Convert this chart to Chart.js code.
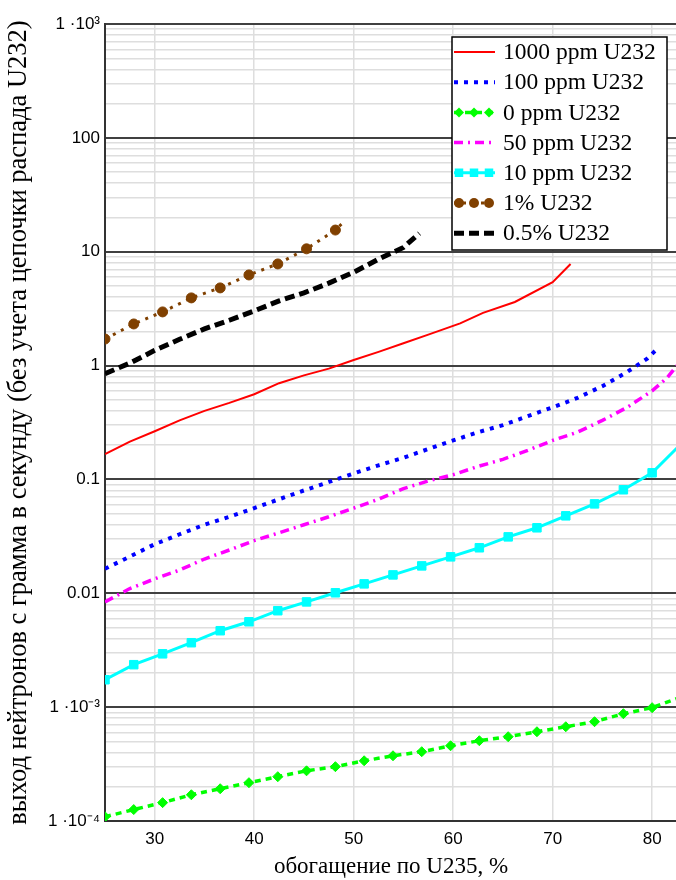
<!DOCTYPE html>
<html lang="ru">
<head>
<meta charset="UTF-8">
<title>Выход нейтронов</title>
<script src="https://cdn.jsdelivr.net/npm/chart.js"></script>
<style>
  html, body { margin: 0; padding: 0; background: #fff; overflow: hidden; }
  canvas { display: block; }
</style>
</head>
<body>
<!-- a bit wider than the window: the right plot edge falls on the window edge, as in the original -->
<canvas id="chart" width="684" height="880"></canvas>
<script>
// enrichment values where the marker series have their points
const xMarks = [25, 27.89, 30.79, 33.68, 36.58, 39.47, 42.37, 45.26, 48.16, 51.05,
                53.95, 56.84, 59.74, 62.63, 65.53, 68.42, 71.32, 74.21, 77.11, 80];

// 1000 ppm U232
const xU1000 = [25, 27.5, 30, 32.5, 35, 37.5, 40, 42.5, 45, 47.5, 50, 52.5, 55, 57.5, 60.7, 63, 66.2, 70, 71.8];
const yU1000 = [0.167, 0.215, 0.265, 0.33, 0.40, 0.47, 0.56, 0.70, 0.82, 0.94, 1.12, 1.32, 1.57, 1.87, 2.35, 2.9, 3.62, 5.4, 7.8];

// 100 ppm U232
const xU100 = [25, 27.5, 30, 32.5, 35, 37.5, 40, 42.5, 45, 47.5, 50, 52.5, 55, 57.5, 60, 62.5, 65, 67.5, 70, 72.5, 75, 77.5, 79.5, 80.5];
const yU100 = [0.0164, 0.021, 0.027, 0.033, 0.040, 0.047, 0.056, 0.067, 0.080, 0.095, 0.113, 0.133, 0.155, 0.185, 0.22, 0.26, 0.30, 0.36, 0.43, 0.52, 0.66, 0.88, 1.15, 1.40];

// 0 ppm U232 (markers + tail to the plot edge)
const xU0 = xMarks.concat([82.5]);
const yU0 = [1.09e-4, 1.26e-4, 1.45e-4, 1.70e-4, 1.92e-4, 2.17e-4, 2.45e-4, 2.76e-4, 3.00e-4, 3.38e-4,
             3.74e-4, 4.06e-4, 4.58e-4, 5.07e-4, 5.50e-4, 6.08e-4, 6.73e-4, 7.45e-4, 8.75e-4, 9.89e-4, 1.19e-3];

// 50 ppm U232
const xU50 = [25, 27.5, 30, 32.5, 35, 37.5, 40, 42.5, 45, 47.5, 50, 52.5, 55, 57.5, 60, 62.5, 65, 67.5, 70, 72.5, 75, 77.5, 80, 81.5, 82.5];
const yU50 = [0.0084, 0.011, 0.0134, 0.016, 0.020, 0.024, 0.029, 0.034, 0.040, 0.047, 0.056, 0.067, 0.083, 0.097, 0.11, 0.13, 0.15, 0.18, 0.22, 0.26, 0.33, 0.43, 0.60, 0.78, 1.0];

// 10 ppm U232
const xU10 = xMarks.concat([82.5]);
const yU10 = [0.00174, 0.00236, 0.00294, 0.00368, 0.00469, 0.00562, 0.00703, 0.0084, 0.0101, 0.0121,
              0.0145, 0.0174, 0.0209, 0.0251, 0.0313, 0.0376, 0.0479, 0.0610, 0.0811, 0.1143, 0.189];

// 1% U232
const xP1 = xMarks.slice(0, 9).concat([49.0]);
const yP1 = [1.71, 2.32, 2.96, 3.93, 4.81, 6.25, 7.81, 10.6, 15.5, 18.3];

// 0.5% U232
const xP05 = [25, 27.5, 30, 32.5, 35, 37.5, 40, 42.5, 45, 47.5, 50, 52.5, 55, 56.6];
const yP05 = [0.85, 1.05, 1.36, 1.70, 2.10, 2.50, 3.02, 3.70, 4.35, 5.3, 6.6, 8.6, 10.9, 14.5];

const xTicks = [30, 40, 50, 60, 70, 80];
const yDecades = [1e-4, 1e-3, 0.01, 0.1, 1, 10, 100, 1000];
const yTickLabels = ['1 \u00b710\u207b\u2074', '1 \u00b710\u207b\u00b3', '0.01', '0.1', '1', '10', '100', '1 \u00b710\u00b3'];

const serif = "'Liberation Serif', 'Times New Roman', serif";
const tickFont = { family: "'Liberation Sans', Arial, sans-serif", size: 17 };

function pts(xs, ys) {
    return xs.map((x, i) => ({ x: x, y: ys[i] }));
}
function markRadius(xs, r) {
    return xs.map(x => xMarks.includes(x) ? r : 0);
}
function isDecade(v) {
    return yDecades.some(d => Math.abs(Math.log10(v) - Math.log10(d)) < 1e-6);
}

const datasets = [
    { label: '1000 ppm U232', data: pts(xU1000, yU1000), borderColor: '#ff0000', borderWidth: 2, pointRadius: 0 },
    { label: '100 ppm U232', data: pts(xU100, yU100), borderColor: '#0000ff', borderWidth: 4,
      borderDash: [4, 6], pointRadius: 0 },
    { label: '0 ppm U232', data: pts(xU0, yU0), borderColor: '#00ff00', borderWidth: 3.5, borderDash: [6, 5],
      pointStyle: 'rectRot', pointRadius: markRadius(xU0, 5), backgroundColor: '#00ff00', pointBorderWidth: 1 },
    { label: '50 ppm U232', data: pts(xU50, yU50), borderColor: '#ff00ff', borderWidth: 3.5,
      borderDash: [9, 5, 2, 5], pointRadius: 0 },
    { label: '10 ppm U232', data: pts(xU10, yU10), borderColor: '#00ffff', borderWidth: 3,
      pointStyle: 'rect', pointRadius: markRadius(xU10, 6), backgroundColor: '#00ffff', pointBorderWidth: 1 },
    { label: '1% U232', data: pts(xP1, yP1), borderColor: '#804000', borderWidth: 3, borderDash: [3, 6],
      pointStyle: 'circle', pointRadius: markRadius(xP1, 5), backgroundColor: '#804000', pointBorderWidth: 1 },
    { label: '0.5% U232', data: pts(xP05, yP05), borderColor: '#000000', borderWidth: 5,
      borderDash: [10, 5], pointRadius: 0 }
];
datasets.forEach(ds => { ds.fill = false; ds.tension = 0; ds.borderCapStyle = 'butt'; ds.pointHoverRadius = 0; });

function drawMark(ctx, style, x, y, r, color) {
    ctx.fillStyle = color;
    ctx.beginPath();
    if (style === 'rect') {
        const s = r * Math.SQRT1_2;
        ctx.rect(x - s, y - s, 2 * s, 2 * s);
    } else if (style === 'rectRot') {
        ctx.moveTo(x, y - r); ctx.lineTo(x + r, y); ctx.lineTo(x, y + r); ctx.lineTo(x - r, y); ctx.closePath();
    } else {
        ctx.arc(x, y, r, 0, Math.PI * 2);
    }
    ctx.fill();
}

// legend box in the top right corner of the plot
const boxLegend = {
    id: 'boxLegend',
    afterDatasetsDraw(chart) {
        const ctx = chart.ctx;
        const left = 452, right = 667, top = 37, h = 213;
        ctx.save();
        ctx.fillStyle = '#ffffff';
        ctx.fillRect(left, top, right - left, h);
        ctx.strokeStyle = '#000';
        ctx.lineWidth = 1.5;
        ctx.setLineDash([]);
        ctx.strokeRect(left, top, right - left, h);
        chart.data.datasets.forEach((ds, i) => {
            const y = top + 15 + i * 30.2;
            ctx.save();
            ctx.beginPath();
            ctx.rect(left + 1, y - 10, 42, 20);
            ctx.clip();
            ctx.beginPath();
            ctx.setLineDash(ds.borderDash || []);
            ctx.lineWidth = ds.borderWidth;
            ctx.strokeStyle = ds.borderColor;
            ctx.lineCap = 'butt';
            ctx.moveTo(left + 2, y);
            ctx.lineTo(left + 43, y);
            ctx.stroke();
            if (ds.pointStyle) {
                [left + 7, left + 22, left + 37].forEach(mx =>
                    drawMark(ctx, ds.pointStyle, mx, y, ds.pointStyle === 'rect' ? 6 : 5, ds.borderColor));
            }
            ctx.restore();
            ctx.fillStyle = '#000';
            ctx.font = '23.5px ' + serif;
            ctx.textBaseline = 'middle';
            ctx.fillText(ds.label, left + 51, y + 1);
        });
        ctx.restore();
    }
};

new Chart(document.getElementById('chart'), {
    type: 'line',
    data: { datasets: datasets },
    options: {
        responsive: false,
        animation: false,
        devicePixelRatio: 1,
        layout: { padding: { top: 24, right: 0, bottom: 0, left: 0 } },
        plugins: { legend: { display: false }, tooltip: { enabled: false } },
        scales: {
            x: {
                type: 'linear',
                min: 25,
                max: 82.5,
                afterBuildTicks: s => { s.ticks = xTicks.map(v => ({ value: v })); },
                afterFit: s => { s.height = 59; },
                ticks: { color: '#000', font: tickFont, padding: 8, maxRotation: 0 },
                grid: { color: '#dedede', lineWidth: 1.5, drawTicks: false },
                border: { color: '#333', width: 2 },
                title: { display: true, text: 'обогащение по U235, %', color: '#000',
                         font: { family: serif, size: 23, lineHeight: 1 }, padding: { top: 0, bottom: 2 } }
            },
            y: {
                type: 'logarithmic',
                min: 1e-4,
                max: 1000,
                afterBuildTicks: s => {
                    const t = [];
                    yDecades.forEach((d, i) => {
                        t.push({ value: d, major: true });
                        if (i < yDecades.length - 1) {
                            for (let m = 2; m <= 9; m++) t.push({ value: d * m });
                        }
                    });
                    s.ticks = t;
                },
                afterFit: s => { s.width = 105; },
                ticks: {
                    color: '#000', font: tickFont, padding: 5, autoSkip: false,
                    callback: v => {
                        const i = yDecades.findIndex(d => Math.abs(Math.log10(v) - Math.log10(d)) < 1e-6);
                        return i >= 0 ? yTickLabels[i] : '';
                    }
                },
                grid: {
                    drawTicks: false,
                    color: c => (c.tick && isDecade(c.tick.value)) ? '#404040' : '#dedede',
                    lineWidth: c => (c.tick && isDecade(c.tick.value)) ? 2 : 1.5
                },
                border: { color: '#333', width: 2 },
                title: { display: true, text: 'выход нейтронов с грамма в секунду (без учета цепочки распада U232)',
                         color: '#000', font: { family: serif, size: 26.5, lineHeight: 1.1 }, padding: 4 }
            }
        }
    },
    plugins: [boxLegend]
});
</script>
</body>
</html>
